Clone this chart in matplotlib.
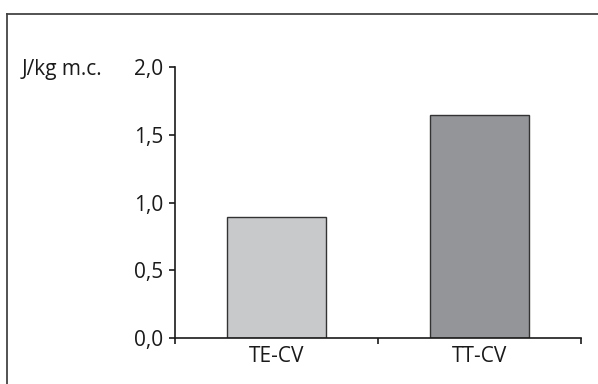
import matplotlib
matplotlib.use("Agg")
import matplotlib.pyplot as plt
from matplotlib.lines import Line2D

categories = ["TE-CV", "TT-CV"]
values = [0.89, 1.645]
colors = ["#c8c9cb", "#939598"]
yticks = [0.0, 0.5, 1.0, 1.5, 2.0]
ytick_labels = ["0,0", "0,5", "1,0", "1,5", "2,0"]
unit_label = "J/kg m.c."

plt.rcParams['font.family'] = ['Open Sans', 'DejaVu Sans']

W, H = 598, 384
FS = 15
fig = plt.figure(figsize=(W / 100, H / 100), dpi=100)
ax = fig.add_axes([175 / W, 1 - 338 / H, (581 - 175) / W, (338 - 67) / H])

x = list(range(len(categories)))
ax.bar(x, values, width=0.49, color=colors, edgecolor="#333333", linewidth=1.0, zorder=2)

ax.set_xlim(-0.5, len(categories) - 0.5)
ax.set_ylim(0, 2.0)
ax.set_yticks(yticks)
ax.set_yticklabels(ytick_labels, fontsize=FS, color="#1a1a1a")
ax.set_xticks(x)
ax.set_xticklabels(categories, fontsize=FS, color="#1a1a1a")
ax.set_xticks([-0.5, 0.5, 1.5], minor=True)
ax.tick_params(axis="x", which="major", length=0, pad=6)
ax.tick_params(axis="x", which="minor", direction="out", length=4, width=1.2, color="#1a1a1a")
ax.tick_params(axis="y", direction="out", length=4, width=1.2, color="#1a1a1a", pad=4.5)

for s in ["top", "right"]:
    ax.spines[s].set_visible(False)
for s in ["left", "bottom"]:
    ax.spines[s].set_color("#1a1a1a")
    ax.spines[s].set_linewidth(1.2)

fig.text(22 / W, 1 - 70 / H, unit_label, fontsize=FS, color="#1a1a1a", va="center", ha="left")

# outer frame (top and left edges visible)
fig.add_artist(Line2D([6.5 / W, 6.5 / W], [0, 1 - 13.5 / H], transform=fig.transFigure, color="#444444", linewidth=1.3))
fig.add_artist(Line2D([6.5 / W, 1], [1 - 13.5 / H, 1 - 13.5 / H], transform=fig.transFigure, color="#444444", linewidth=1.3))

fig.savefig("out.png", dpi=100)
